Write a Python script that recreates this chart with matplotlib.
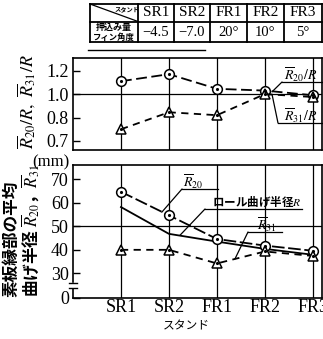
import numpy as np
import matplotlib
matplotlib.use('Agg')
import matplotlib.pyplot as plt
from matplotlib.patches import Rectangle

plt.rcParams['font.family'] = ['Liberation Serif', 'Noto Sans CJK JP']
plt.rcParams['mathtext.fontset'] = 'stix'

# data
stands = ['SR1', 'SR2', 'FR1', 'FR2', 'FR3']
push_fin = ['\u22124.5', '\u22127.0', '20\u00b0', '10\u00b0', '5\u00b0']
ratio_r20 = [1.11, 1.17, 1.045, 1.03, 0.99]
ratio_r31 = [0.75, 0.845, 0.82, 1.0, 0.975]
r20 = [64.7, 54.7, 44.6, 41.8, 39.6]
r31 = [40.0, 40.0, 34.2, 39.3, 37.4]
roll_r = [58.2, 46.8, 43.5, 40.4, 37.9]

upper_ticks = [0.7, 0.8, 1.0, 1.2]
lower_ticks = [0, 30, 40, 50, 60, 70]
CJK = ['Noto Sans CJK JP', 'DejaVu Sans']


# broken axes: below 0.8 the upper scale is stretched, below 30 the lower one squeezed
def up_fwd(v):
    v = np.asarray(v, float)
    return np.where(v >= 0.8, v, 0.8 - (0.8 - v) * 2)


def up_inv(u):
    u = np.asarray(u, float)
    return np.where(u >= 0.8, u, 0.8 - (0.8 - u) / 2)


def lo_fwd(v):
    v = np.asarray(v, float)
    return np.where(v >= 30, v, 19.5 + 0.35 * v)


def lo_inv(u):
    u = np.asarray(u, float)
    return np.where(u >= 30, u, (u - 19.5) / 0.35)


W, H = 323, 339
fig = plt.figure(figsize=(W / 100, H / 100), dpi=100)


def box(l, t, r, b):
    return [l / W, 1 - b / H, (r - l) / W, (b - t) / H]


ax1 = fig.add_axes(box(73, 58, 322, 150))
ax2 = fig.add_axes(box(73, 165, 322, 298))
x = np.arange(len(stands))

for ax in (ax1, ax2):
    ax.set_xlim(-1.0, 4.19)
    for xi in x:
        ax.axvline(xi, color='k', lw=0.9, zorder=1)
    ax.set_xticks(x)
    ax.tick_params(axis='x', length=0, labelsize=13, pad=1)
    ax.tick_params(axis='y', direction='in', length=5, width=1, labelsize=13, pad=3)
    for s in ax.spines.values():
        s.set_linewidth(1.2)

circ = dict(marker='o', ms=7, mfc='white', mec='k', mew=1.1, color='k', lw=1.3, zorder=3)
tri = dict(marker='^', ms=7.5, mfc='white', mec='k', mew=1.1, color='k', lw=1.3, zorder=3)
dot = dict(ls='none', marker='.', ms=2.5, color='k', zorder=4)

# upper: ratios
ax1.set_yscale('function', functions=(up_fwd, up_inv))
ax1.set_ylim(0.6615, 1.308)
ax1.set_yticks(upper_ticks)
ax1.set_yticklabels(['%.1f' % t for t in upper_ticks])
ax1.set_xticklabels([])
ax1.axhline(1.0, color='k', lw=0.9, zorder=1)
ax1.plot(x, ratio_r20, ls=(0, (6, 2.5)), **circ)
ax1.plot(x, ratio_r20, **dot)
ax1.plot(x, ratio_r31, ls=(0, (4, 3)), **tri)
ax1.plot(x, ratio_r31, **dot)

# lower: radii
ax2.set_yscale('function', functions=(lo_fwd, lo_inv))
ax2.set_ylim(0, 76.1)
ax2.set_yticks(lower_ticks)
ax2.set_yticklabels([str(t) for t in lower_ticks])
ax2.set_xticklabels(stands)
ax2.axhline(50, color='k', lw=0.9, zorder=1)
ax2.plot(x, roll_r, color='k', lw=1.3, zorder=2)
ax2.plot(x, r20, ls=(0, (7, 2)), **circ)
ax2.plot(x, r20, **dot)
ax2.plot(x, r31, ls=(0, (4, 3)), **tri)
ax2.plot(x, r31, **dot)

# overlay in pixel coordinates for table, labels and leaders
ov = fig.add_axes([0, 0, 1, 1], zorder=10)
ov.set_xlim(0, W)
ov.set_ylim(H, 0)
ov.axis('off')
ov.patch.set_alpha(0)

# table
cols = [90, 138, 174, 210, 247, 284, 322]
rows = [4, 21.5, 42]
for yy in rows:
    ov.plot([cols[0], cols[-1]], [yy, yy], color='k', lw=1.3)
for xx in cols:
    ov.plot([xx, xx], [rows[0], rows[-1]], color='k', lw=1.3)
ov.plot([cols[0], cols[1]], [rows[0], rows[1]], color='k', lw=0.9)
ov.plot([88, 205], [50, 50], color='k', lw=1.0)
ov.text(127, 8.5, 'スタンド', fontsize=4.5, fontweight='bold', family=CJK, ha='center', va='center')
ov.text(114, 27, '押込み量', fontsize=6.5, fontweight='bold', family=CJK, ha='center', va='center')
ov.text(114, 37, 'フィン角度', fontsize=6, fontweight='bold', family=CJK, ha='center', va='center')
for i, (s, v) in enumerate(zip(stands, push_fin)):
    cx = (cols[i + 1] + cols[i + 2]) / 2
    ov.text(cx, 13, s, fontsize=11, ha='center', va='center')
    ov.text(cx, 32, v, fontsize=10.5, ha='center', va='center')

# axis titles
ov.text(27, 102, r'$\overline{R}_{20}/R,\ \overline{R}_{31}/R$', rotation=90,
        ha='center', va='center', fontsize=13)
ov.text(51, 162, '(mm)', ha='center', va='center', fontsize=12)
ov.text(11, 297, '素板縁部の平均', rotation=90, ha='center', va='bottom',
        fontsize=12, fontweight='bold', family=CJK)
ov.text(30, 297, '曲げ半径 $\\overline{R}_{20}$，$\\overline{R}_{31}$', rotation=90,
        ha='center', va='bottom', fontsize=12, fontweight='bold', family=CJK)
ov.text(186, 326, 'スタンド', ha='center', va='center', fontsize=8.5, family=CJK)

# axis break on the left spine of the lower plot
ov.add_patch(Rectangle((70, 283), 6, 4, color='white', zorder=5))
ov.plot([69, 77], [282.5, 282.5], color='k', lw=1.0, zorder=6)
ov.plot([69, 77], [287.5, 287.5], color='k', lw=1.0, zorder=6)

# leaders with underlined labels
leaders = [
    (ax1, (3.15, 1.02), (282, 322, 82), r'$\overline{R}_{20}/R$', (301, 75), 10, None),
    (ax1, (3.15, 0.995), (278, 322, 123), r'$\overline{R}_{31}/R$', (301, 116), 10, None),
    (ax2, (0.85, 56.0), (182, 218, 189), r'$\overline{R}_{20}$', (193, 182), 10, None),
    (ax2, (1.23, 46.2), (205, 302, 209), 'ロール曲げ半径$R$', (257, 202), 8.3, CJK),
    (ax2, (2.375, 36.1), (248, 282, 232), r'$\overline{R}_{31}$', (267, 225), 10, None),
]
for ax, xy, (x0, x1, yl), label, (tx, ty), fs, fam in leaders:
    ov.plot([x0, x1], [yl, yl], color='k', lw=0.9)
    ax.annotate('', xy=xy, xycoords='data', xytext=(x0, yl), textcoords=ov.transData,
                arrowprops=dict(arrowstyle='-', lw=0.9, color='k', shrinkA=0, shrinkB=0))
    kw = dict(fontsize=fs, ha='center', va='center')
    if fam:
        kw.update(family=fam, fontweight='bold')
    ov.text(tx, ty, label, **kw)

fig.savefig('out.png', dpi=100)
